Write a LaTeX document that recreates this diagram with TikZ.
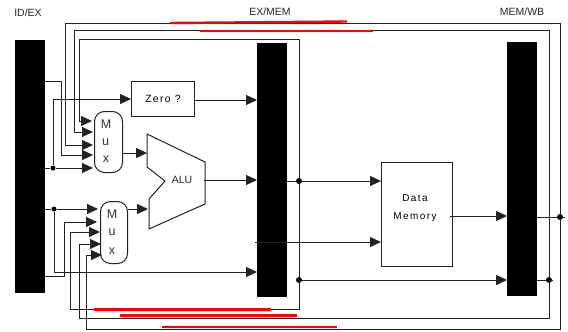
\documentclass[tikz,border=0pt]{standalone}
\usepackage{fontspec}
\setmainfont{Liberation Sans}
\usetikzlibrary{arrows.meta,calc}
\definecolor{wire}{HTML}{222222}
\tikzset{
  latch/.style={fill=black,draw=none,minimum width=30pt,inner sep=0pt,anchor=north west},
  unitbox/.style={draw=wire,line width=1pt,fill=white,inner sep=0pt,anchor=north west,align=center},
  muxbox/.style={draw=wire,line width=1pt,fill=white,inner sep=0pt,rounded corners=10pt,anchor=north west},
  muxletter/.style={inner sep=0pt,font=\fontsize{12.5}{14}\selectfont,text=black!80},
  regname/.style={inner sep=0pt,font=\fontsize{10.5}{12}\selectfont,text=black!85},
  wirestyle/.style={draw=wire,line width=1pt},
  feed/.style={wirestyle,-{Triangle[length=11pt,width=10pt]}},
  plain/.style={wirestyle},
  redbar/.style={draw=red,line width=2.4pt},
  dotnode/.style={circle,fill=black,inner sep=0pt,minimum size=6pt}
}
\begin{document}
\begin{tikzpicture}[x=1pt,y=-1pt]
\useasboundingbox (0,0) rectangle (568,332);
% pipeline registers
\node[latch,minimum height=253pt] (idex) at (15,40) {};
\node[latch,minimum height=254pt] (exmem) at (257,43) {};
\node[latch,minimum height=254pt] (memwb) at (507,42) {};
\node[regname] (l1) at (28,13) {ID/EX};
\node[regname] (l2) at (270,12) {EX/MEM};
\node[regname] (l3) at (522,12) {MEM/WB};
% units
\node[unitbox,minimum width=63pt,minimum height=35pt] (zero) at (131,81) {\fontsize{10.5}{12}\selectfont\addfontfeature{LetterSpace=12}Zero ?};
\node[unitbox,minimum width=71pt,minimum height=104pt] (dmem) at (381,162) {};
\node[inner sep=0pt,align=center,font=\fontsize{10}{18}\selectfont] (dmemtext) at (415,208) {\addfontfeature{LetterSpace=14}Data\\\addfontfeature{LetterSpace=14}Memory};
\node[muxbox,minimum width=28pt,minimum height=61pt] (muxa) at (94,111) {};
\node[muxbox,minimum width=27pt,minimum height=62pt] (muxb) at (100,201) {};
\node[muxletter] (ma1) at (106,124) {M};
\node[muxletter] (ma2) at (105.5,142) {u};
\node[muxletter] (ma3) at (106,159) {x};
\node[muxletter] (mb1) at (112,214) {M};
\node[muxletter] (mb2) at (112,232) {u};
\node[muxletter] (mb3) at (112,251) {x};
% ALU
\draw[wirestyle,fill=white] (147,134) -- (205,162) -- (205,204) -- (149,229) -- (149,199) -- (165,181) -- (147,167) -- cycle;
\node[inner sep=0pt,font=\fontsize{10.5}{12}\selectfont,text=black!85] (alu) at (182,180) {ALU};
% named points
\coordinate (aluA) at (147,153);
\coordinate (aluB) at (148,209);
\coordinate (aluO) at (204,180);
\node[dotnode,minimum size=5pt] (j1) at (53,168) {};
\node[dotnode,minimum size=5pt] (j2) at (54,209) {};
\node[dotnode] (j3) at (299,181) {};
\node[dotnode] (j4) at (299,280) {};
\node[dotnode] (j5) at (560,217) {};
\node[dotnode] (j6) at (549,280) {};
% forwarding wires
\draw[feed] (j5) -- (560,329) -- (86,329) -- (86,255) -- (102,255);
\draw[plain] (j5) -- (560,23) -- (65,23);
\draw[feed] (65,23) -- (65,145) -- (93,145);
\draw[feed] (j6) -- (549,318) -- (79,318) -- (79,244) -- (101,244);
\draw[plain] (j6) -- (549,30.5) -- (74,30.5);
\draw[feed] (74,30.5) -- (74,132) -- (93,132);
\draw[plain] (j3) -- (299,39) -- (79,39);
\draw[feed] (79,39) -- (79,121) -- (92,121);
\draw[plain] (j3) -- (j4);
\draw[feed] (j4) -- (299,309) -- (70.5,309) -- (70.5,232) -- (100,232);
% from ID/EX
\draw[feed] (idex.north east |- 0,81) -- (61,81) -- (61,155) -- (93,155);
\draw[feed] (j1) -- (53,99) -- (zero.west |- 53,99);
\draw[feed] (idex.north east |- 0,168) -- (j1) -- (93,168);
\draw[feed] (idex.north east |- 0,209) -- (j2) -- (98,209);
\draw[plain] (j2) -- (54,272);
\draw[feed] (54,272) -- (exmem.west |- 54,272);
\draw[feed] (idex.north east |- 0,276) -- (64,276) -- (64,222) -- (97,222);
% units outputs
\draw[feed] (zero.east |- 195,100) -- (exmem.west |- 195,100);
\draw[feed] (muxa.east |- 122,153) -- (aluA);
\draw[feed] (muxb.east |- 127,209) -- (aluB);
\draw[feed] (aluO) -- (exmem.west |- aluO);
% EX/MEM to MEM/WB
\draw[feed] (exmem.east |- j3) -- (j3) -- (dmem.west |- j3);
\draw[feed] (255,242) -- (dmem.west |- 255,242);
\draw[feed] (j4) -- (memwb.west |- j4);
\draw[feed] (450,216) -- (memwb.west |- 450,216);
\draw[plain] (memwb.east |- j5) -- (j5) -- (565,217);
\draw[plain] (memwb.east |- j6) -- (j6) -- (552,280);
% red bars over the wires
\draw[redbar] (170,23) -- (347,21.5);
\draw[redbar] (200,31) -- (373,31);
\draw[redbar] (94,309.5) -- (271,309.5);
\draw[redbar] (120,315.5) -- (297,315.5);
\draw[redbar] (162,327) -- (337,327);
\end{tikzpicture}
\end{document}
